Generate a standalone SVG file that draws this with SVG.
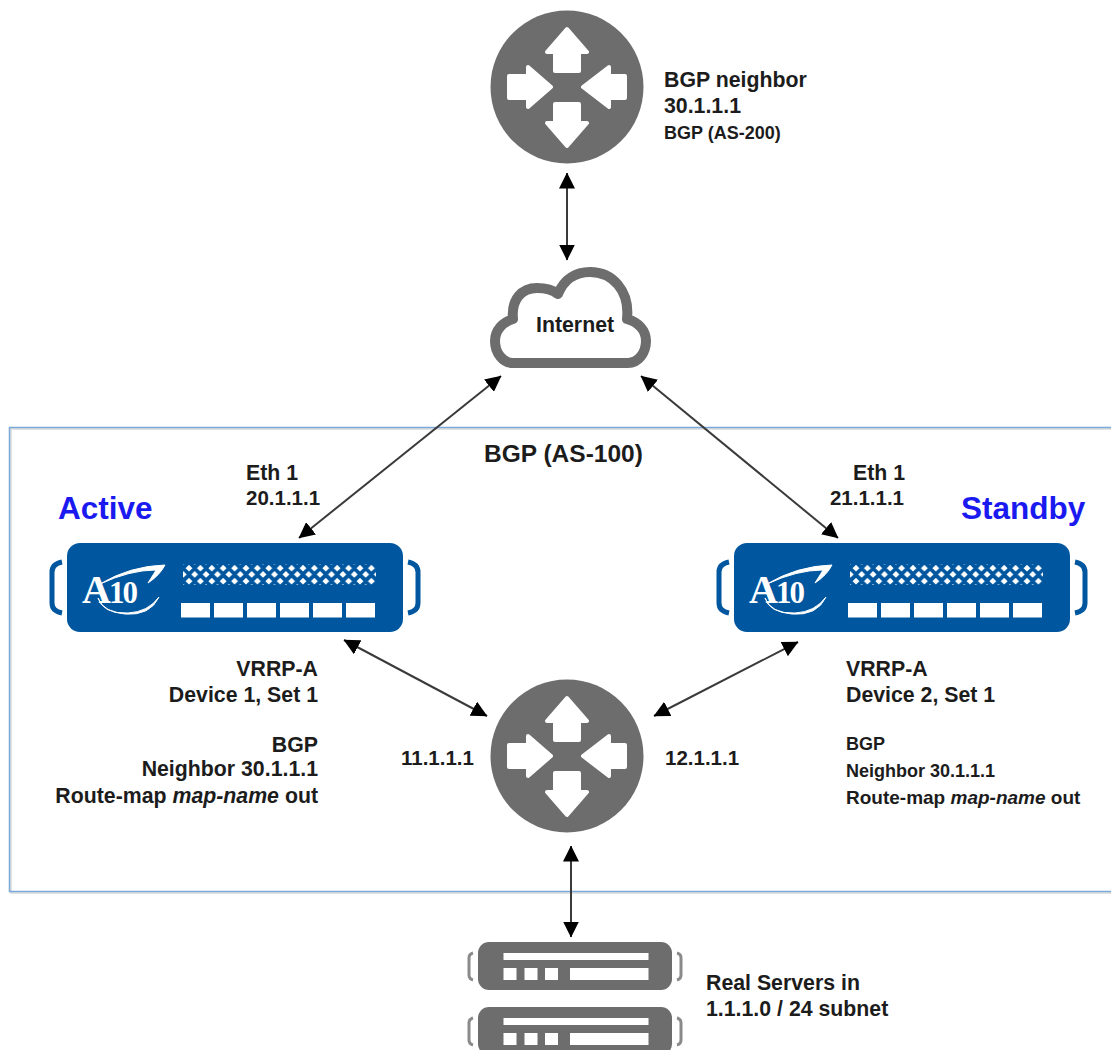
<svg xmlns="http://www.w3.org/2000/svg" xmlns:xlink="http://www.w3.org/1999/xlink" width="1111" height="1050" viewBox="0 0 1111 1050">
<style>
text{font-family:"Liberation Sans",Arial,sans-serif;font-weight:700;fill:#1c1c1c;font-size:21.300px}
.sm{font-size:18px}
.ip{font-size:20.500px}
.end{text-anchor:end}
.role{fill:#1a1af0;font-size:31.500px}
.conn{stroke:#3a3a3a;stroke-width:2;fill:none;marker-start:url(#ah);marker-end:url(#ah)}
</style>
<defs>
<marker id="ah" viewBox="0 0 16 16" refX="15.500" refY="8" markerWidth="16" markerHeight="16" markerUnits="userSpaceOnUse" orient="auto-start-reverse"><path d="M0 0L16 8L0 16Z" fill="#000"/></marker>
<pattern id="dots" x="183.300" y="565" width="11.400" height="13" patternUnits="userSpaceOnUse"><path d="M5.700-.2L9.100 3.200L5.700 6.600L2.300 3.200ZM0 6L3.400 9.400L0 12.800L-3.400 9.400ZM11.400 6L14.800 9.400L11.400 12.800L8 9.400Z" fill="#fff"/></pattern>
<g id="router"><circle r="76.500" fill="#6d6d6d"/><path fill="#fff" stroke="#fff" stroke-width="4" stroke-linejoin="round" d="M0-58L20-35H12V-16H-12V-35H-20ZM0 59L20 36H12V17H-12V36H-20ZM-58-11H-39V-20L-16 0L-39 20V11H-58ZM58-11H42V-20L16 0L42 20V11H58Z"/></g>
<g id="device"><path d="M62 562Q52 564 52 572V603Q52 611 62 613" fill="none" stroke="#00579f" stroke-width="5"/><path d="M408 562Q418 564 418 572V603Q418 611 408 613" fill="none" stroke="#00579f" stroke-width="5"/><rect x="67" y="543" width="336" height="89" rx="13" fill="#00579f"/><rect x="183" y="564" width="193" height="21" fill="url(#dots)"/><g fill="#fff"><rect x="181" y="603" width="29" height="14.500"/><rect x="214" y="603" width="29" height="14.500"/><rect x="247" y="603" width="29" height="14.500"/><rect x="280" y="603" width="29" height="14.500"/><rect x="313" y="603" width="29" height="14.500"/><rect x="346" y="603" width="29" height="14.500"/></g><path d="M100 584Q130 566 165 565Q160 575 148 583Q155 572 156 570Q130 570 100 584ZM98 598Q104 614 128 613Q148 612 159 597Q150 616 125 614Q102 612 98 598Z" fill="#fff" stroke="#fff" stroke-width="1"/><text x="82" y="603" style="font-family:'Liberation Serif',serif;font-size:40px;font-weight:700;fill:#fff;letter-spacing:-2px">A<tspan style="font-size:31px">10</tspan></text></g>
<g id="server"><path d="M473 953Q469 954 469 958V975Q469 979 473 980M677 953Q681 954 681 958V975Q681 979 677 980" fill="none" stroke="#8a8a8a" stroke-width="3"/><rect x="478" y="942" width="194" height="48" rx="11" fill="#6d6d6d"/><g fill="#fff"><rect x="503.500" y="953" width="145" height="7"/><rect x="503.500" y="968" width="13" height="12"/><rect x="524.500" y="968" width="13" height="12"/><rect x="545" y="968" width="13" height="12"/><rect x="570" y="968" width="78.500" height="12"/></g></g>
</defs>
<rect width="1111" height="1050" fill="#fff"/>
<rect x="11" y="429" width="1120" height="464" fill="none" stroke="#e2e2e2" stroke-width="2"/>
<rect id="as100" x="9.500" y="427.500" width="1120" height="464" fill="none" stroke="#7aa9d8" stroke-width="1.500"/>
<g id="connectors">
<path class="conn" d="M567 173V260"/>
<path class="conn" d="M501 376L299 538"/>
<path class="conn" d="M641 376L838 538"/>
<path class="conn" d="M344 640L487 716"/>
<path class="conn" d="M798 642L654 716"/>
<path class="conn" d="M571 846V937"/>
</g>
<g id="bgp-neighbor"><use xlink:href="#router" href="#router" x="567" y="87"/>
<text x="664" y="87">BGP neighbor</text><text x="664" y="113">30.1.1.1</text><text class="sm" x="664" y="139">BGP (AS-200)</text></g>
<g id="internet"><path d="M513 363C503 363 495 353 495 341C495 330 503 322 513 319C511 299 522 288 537 288C545 288 553 290 558 294C564 279 576 272 590 272C612 272 630 290 627 319C638 322 646 330 646 341C646 353 638 363 628 363Z" fill="#fff" stroke="#6d6d6d" stroke-width="10" stroke-linejoin="round"/><text x="536" y="332">Internet</text></g>
<g id="as100-label"><text x="484" y="462" style="font-size:24.500px">BGP (AS-100)</text></g>
<g id="active"><use xlink:href="#device" href="#device"/>
<text class="role" x="58" y="519">Active</text><text x="246" y="480">Eth 1</text><text class="ip" x="246" y="505">20.1.1.1</text>
<text class="end" x="318" y="676">VRRP-A</text><text class="end" x="318" y="702">Device 1, Set 1</text><text class="end" x="318" y="752">BGP</text><text class="end" x="318" y="776">Neighbor 30.1.1.1</text><text class="end" x="318" y="803">Route-map <tspan font-style="italic">map-name</tspan> out</text></g>
<g id="standby"><use xlink:href="#device" href="#device" x="667"/>
<text class="role" x="961" y="519">Standby</text><text x="853" y="480">Eth 1</text><text class="end ip" x="904" y="505">21.1.1.1</text>
<text x="846" y="676">VRRP-A</text><text x="846" y="702">Device 2, Set 1</text><text class="sm" x="846" y="750">BGP</text><text class="sm" x="846" y="777">Neighbor 30.1.1.1</text><text x="846" y="804" style="font-size:19px">Route-map <tspan font-style="italic">map-name</tspan> out</text></g>
<g id="router-2"><use xlink:href="#router" href="#router" x="567" y="756"/>
<text class="ip" x="401" y="765">11.1.1.1</text><text class="ip" x="665" y="765">12.1.1.1</text></g>
<g id="real-servers"><use xlink:href="#server" href="#server"/><use xlink:href="#server" href="#server" y="65"/>
<text x="706" y="990">Real Servers in</text><text x="706" y="1016">1.1.1.0 / 24 subnet</text></g>
</svg>
